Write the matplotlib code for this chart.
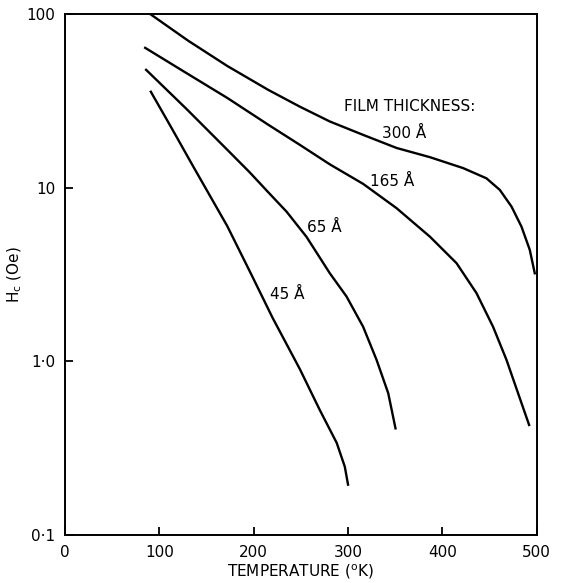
import matplotlib
matplotlib.use("Agg")
from matplotlib import pyplot as plt

# coercive force vs temperature for four film thicknesses
T_300 = [90, 130.6, 172, 215.4, 249, 280.7, 316, 351.4, 386.7, 422, 446.7,
         460.8, 473.2, 483.8, 492.6, 497.9]
HC_300 = [100, 70, 50.1, 36.5, 29.2, 24.0, 20.1, 16.9, 14.96, 12.94, 11.3,
          9.7, 7.78, 5.96, 4.38, 3.21]

T_165 = [85, 127, 172, 215.4, 249, 280.7, 316, 351.4, 386.7, 415, 436.1,
         453.7, 467.9, 480.2, 491.9]
HC_165 = [63.7, 46.2, 32.8, 23.0, 17.6, 13.6, 10.5, 7.61, 5.22, 3.67, 2.47,
          1.58, 1.02, 0.655, 0.43]

T_65 = [86, 128.9, 172, 196, 215.4, 235, 256, 280.7, 298.4, 316, 330.2, 342.6, 350.3]
HC_65 = [47.6, 28.3, 16.5, 12.2, 9.4, 7.25, 5.2, 3.21, 2.36, 1.58, 1.02, 0.655, 0.411]

T_45 = [91, 113, 136, 172, 197, 220, 249, 270, 288, 296.6, 300]
HC_45 = [35.6, 22.0, 13.2, 6.0, 3.2, 1.78, 0.9, 0.525, 0.339, 0.247, 0.195]

X_TICKS = [0, 100, 200, 300, 400, 500]
Y_TICKS = [0.1, 1, 10, 100]
Y_TICK_LABELS = ["0\u00b71", "1\u00b70", "10", "100"]

plt.rcParams["font.family"] = "DejaVu Sans"

fig = plt.figure(figsize=(5.65, 5.83), dpi=100)
ax = fig.add_axes([0.115, 0.0823, 0.835, 0.894])

for t, hc in [(T_300, HC_300), (T_165, HC_165), (T_65, HC_65), (T_45, HC_45)]:
    ax.plot(t, hc, color="black", lw=1.7, solid_joinstyle="round")

ax.set_yscale("log")
ax.set_xlim(0, 500)
ax.set_ylim(0.1, 100)
ax.set_xticks(X_TICKS)
ax.set_xticklabels([str(v) for v in X_TICKS])
ax.set_yticks(Y_TICKS)
ax.set_yticklabels(Y_TICK_LABELS)
ax.minorticks_off()
ax.tick_params(direction="in", length=6, width=1.3, labelsize=11, pad=7)
for s in ax.spines.values():
    s.set_linewidth(1.4)

ax.set_xlabel(r"TEMPERATURE ($^{\rm o}$K)", fontsize=11, labelpad=2)
ax.set_ylabel(r"H$_{\rm c}$ (Oe)", fontsize=11, labelpad=2)

kw = dict(fontsize=11, color="black")
ax.text(296, 29.2, "FILM THICKNESS:", va="center", ha="left", **kw)
ax.text(336, 20.6, "300 \u00c5", va="center", ha="left", **kw)
ax.text(323, 10.8, "165 \u00c5", va="center", ha="left", **kw)
ax.text(256, 5.86, "65 \u00c5", va="center", ha="left", **kw)
ax.text(217, 2.41, "45 \u00c5", va="center", ha="left", **kw)

fig.savefig("out.png", dpi=100)
